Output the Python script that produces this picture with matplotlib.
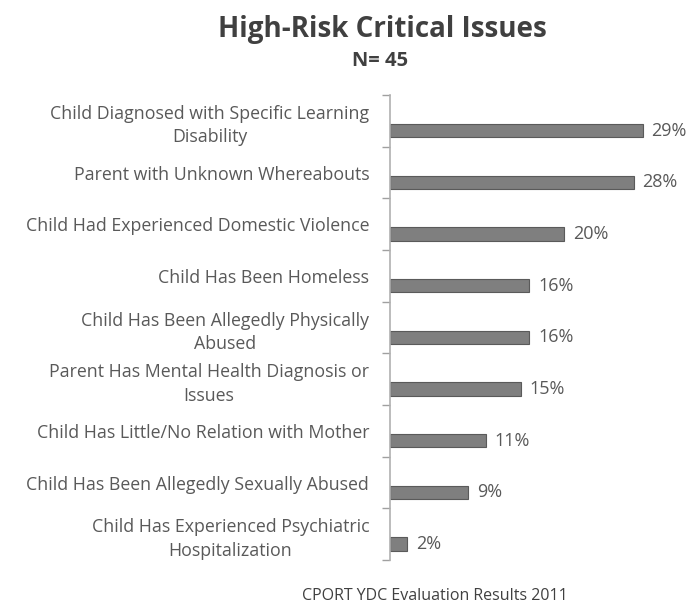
import matplotlib
matplotlib.use("Agg")
import matplotlib.pyplot as plt
import numpy as np

categories = [
    "Child Diagnosed with Specific Learning\nDisability",
    "Parent with Unknown Whereabouts",
    "Child Had Experienced Domestic Violence",
    "Child Has Been Homeless",
    "Child Has Been Allegedly Physically\nAbused",
    "Parent Has Mental Health Diagnosis or\nIssues",
    "Child Has Little/No Relation with Mother",
    "Child Has Been Allegedly Sexually Abused",
    "Child Has Experienced Psychiatric\nHospitalization",
]
values = [29, 28, 20, 16, 16, 15, 11, 9, 2]
value_labels = ["29%", "28%", "20%", "16%", "16%", "15%", "11%", "9%", "2%"]

plt.rcParams['font.family'] = ['Open Sans', 'DejaVu Sans']

W, H = 694, 610
fig = plt.figure(figsize=(W / 100, H / 100), dpi=100)
fig.patch.set_facecolor("white")

ax_left, ax_right, ax_top, ax_bot = 390, 694, 95, 560
ax = fig.add_axes([ax_left / W, 1 - ax_bot / H, (ax_right - ax_left) / W, (ax_bot - ax_top) / H])

n = len(categories)
centers = np.arange(n) + 0.5
bar_pos = centers + 0.19
ax.barh(bar_pos, values, height=0.26, color="#7f7f7f", edgecolor="#5a5a5a", linewidth=0.8)

for y, v, lab in zip(bar_pos, values, value_labels):
    ax.text(v + 1.0, y, lab, va="center", ha="left", fontsize=13, color="#595959")

ax.set_xlim(0, 34.9)
ax.set_ylim(n, 0)
ax.set_yticks(centers)
ax.set_yticklabels(categories, fontsize=12.8, color="#595959", multialignment="center",
                   linespacing=1.4)
ax.set_yticks(np.arange(n + 1), minor=True)
ax.tick_params(axis="y", which="major", length=0, pad=15)
ax.tick_params(axis="y", which="minor", length=6, color="#a0a0a0", width=1)
ax.set_xticks([])
for s in ["top", "right", "bottom"]:
    ax.spines[s].set_visible(False)
ax.spines["left"].set_color("#b0b0b0")
ax.spines["left"].set_linewidth(1.2)

fig.text(382 / W, 1 - 30 / H, "High-Risk Critical Issues", ha="center", va="center",
         fontsize=20, fontweight="bold", color="#404040")
fig.text(380 / W, 1 - 61 / H, "N= 45", ha="center", va="center",
         fontsize=14.5, fontweight="bold", color="#404040")
fig.text(435 / W, 1 - 596 / H, "CPORT YDC Evaluation Results 2011", ha="center", va="center",
         fontsize=11.5, color="#404040")

fig.savefig("out.png", dpi=100, facecolor="white")
